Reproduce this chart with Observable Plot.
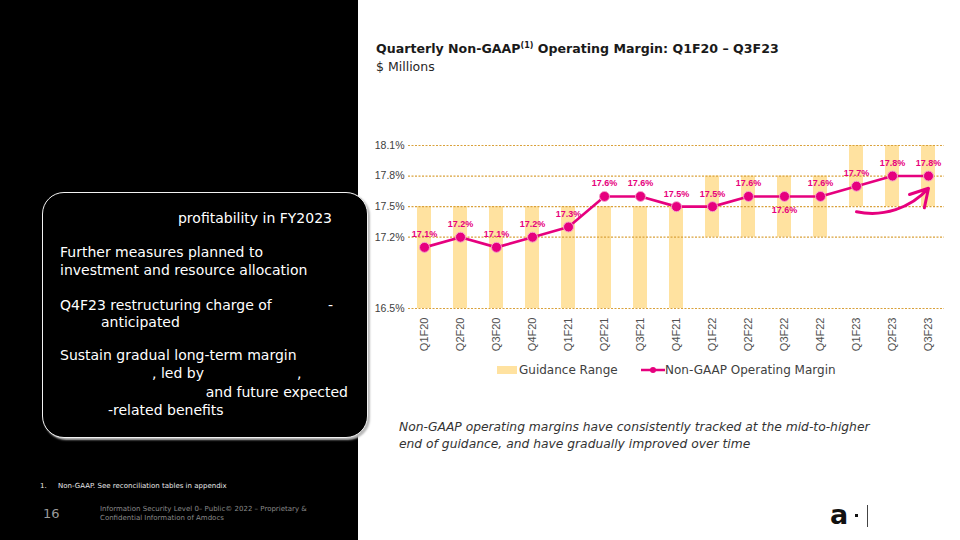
<!DOCTYPE html>
<html><head><meta charset="utf-8">
<script src="https://cdn.jsdelivr.net/npm/d3@7"></script>
<script src="https://cdn.jsdelivr.net/npm/@observablehq/plot@0.6"></script>
<style>
html,body{margin:0;padding:0;}
body{width:960px;height:540px;position:relative;overflow:hidden;background:#fff;font-family:"DejaVu Sans",sans-serif;}
.abs{position:absolute;white-space:nowrap;}
#leftpanel{position:absolute;left:0;top:0;width:358px;height:540px;background:#000;}
#box{position:absolute;left:42px;top:192px;width:324px;height:244px;background:#000;border:1.5px solid #f2f2f2;border-radius:22px;box-shadow:2px 2px 2px #b8b8b8;}
.bt{position:absolute;white-space:nowrap;color:#fff;font-size:14px;line-height:18px;}
#chart{position:absolute;left:360px;top:120px;}
.leg{font-size:12px;color:#404040;line-height:16px;}
</style></head><body>
<div id="leftpanel"></div>
<div id="box"></div>
<div class="bt" style="right:628px;top:209px;">profitability in FY2023</div>
<div class="bt" style="left:60px;top:243px;">Further measures planned to</div>
<div class="bt" style="left:60px;top:261px;">investment and resource allocation</div>
<div class="bt" style="left:60px;top:296px;">Q4F23 restructuring charge of</div>
<div class="bt" style="left:328px;top:296px;">-</div>
<div class="bt" style="left:101px;top:313px;">anticipated</div>
<div class="bt" style="left:60px;top:346px;">Sustain gradual long-term margin</div>
<div class="bt" style="left:152px;top:364px;">, led by</div>
<div class="bt" style="left:297px;top:364px;">,</div>
<div class="bt" style="right:612px;top:383px;">and future expected</div>
<div class="bt" style="left:108px;top:401px;">-related benefits</div>

<div class="abs" style="left:40px;top:482px;font-size:7px;color:#e8e8e8;">1.</div>
<div class="abs" style="left:58px;top:482px;font-size:7px;color:#e8e8e8;">Non-GAAP. See reconciliation tables in appendix</div>
<div class="abs" style="left:43px;top:506px;font-size:13px;color:#9a9a9a;">16</div>
<div class="abs" style="left:100px;top:505px;font-size:7px;line-height:8.5px;color:#8a8a8a;">Information Security Level 0– Public© 2022 – Proprietary &amp;<br>Confidential Information of Amdocs</div>

<div class="abs" style="left:376px;top:41px;font-size:12.6px;font-weight:bold;color:#1a1a1a;">Quarterly Non-GAAP<sup style="font-size:8px;vertical-align:5px;line-height:0;">(1)</sup> Operating Margin: Q1F20 – Q3F23</div>
<div class="abs" style="left:376px;top:59px;font-size:12.5px;color:#262626;">$ Millions</div>

<div id="chart"></div>

<div class="abs" style="left:497px;top:366px;width:20px;height:8px;background:#FFE2A0;"></div>
<div class="abs leg" style="left:519px;top:362px;">Guidance Range</div>
<svg class="abs" style="left:641px;top:364px;" width="24" height="12"><line x1="0" y1="6" x2="24" y2="6" stroke="#E6007E" stroke-width="2.5"/><circle cx="12" cy="6" r="3" fill="#E6007E"/></svg>
<div class="abs leg" style="left:665px;top:362px;">Non-GAAP Operating Margin</div>

<div class="abs" style="left:399px;top:419px;font-size:12.3px;font-style:italic;color:#333;line-height:17px;">Non-GAAP operating margins have consistently tracked at the mid-to-higher<br>end of guidance, and have gradually improved over time</div>

<div class="abs" style="left:830px;top:500px;font-size:27px;font-weight:bold;color:#111;line-height:30px;font-family:'DejaVu Sans';">a</div>
<div class="abs" style="left:855px;top:514px;width:3px;height:3px;background:#111;"></div>
<div class="abs" style="left:867px;top:505px;width:1px;height:22px;background:#444;"></div>

<script>
const quarters = ["Q1F20","Q2F20","Q3F20","Q4F20","Q1F21","Q2F21","Q3F21","Q4F21","Q1F22","Q2F22","Q3F22","Q4F22","Q1F23","Q2F23","Q3F23"];
const marginPct = [17.1,17.2,17.1,17.2,17.3,17.6,17.6,17.5,17.5,17.6,17.6,17.6,17.7,17.8,17.8];
const guidanceLow = [16.5,16.5,16.5,16.5,16.5,16.5,16.5,16.5,17.2,17.2,17.2,17.2,17.5,17.5,17.5];
const guidanceHigh = [17.5,17.5,17.5,17.5,17.5,17.5,17.5,17.5,17.8,17.8,17.8,17.8,18.1,18.1,18.1];
const yTicks = [16.5,17.2,17.5,17.8,18.1];
const labelsBelow = ["Q3F22"];
const trendArrow = [{from:"Q1F23", to:"Q3F23", v1:17.45, v2:17.68}];

const rows = quarters.map((q,i) => ({q, m: marginPct[i], lo: guidanceLow[i], hi: guidanceHigh[i]}));
const pink = "#E6007E";
const fmt = d => d.toFixed(1) + "%";

const chart = Plot.plot({
  width: 600, height: 250,
  marginLeft: 48, marginRight: 16, marginTop: 25, marginBottom: 62,
  style: {background: "transparent", fontFamily: "DejaVu Sans", color: "#404040"},
  x: {domain: quarters, paddingInner: 0.6, paddingOuter: 0.1, label: null},
  y: {domain: [16.5, 18.1], label: null},
  marks: [
    Plot.barY(rows, {x: "q", y1: "lo", y2: "hi", fill: "#FFE2A0"}),
    Plot.ruleY(yTicks, {stroke: "#D9A13B", strokeDasharray: "2,1.5", strokeWidth: 1.2}),
    Plot.axisY({ticks: yTicks, tickFormat: fmt, tickSize: 0, tickPadding: 4, fontSize: 10.5, fontFamily: "Liberation Sans", fill: "#404040", label: null}),
    Plot.axisX({tickSize: 0, tickRotate: -90, tickPadding: 9, fontSize: 11, fontFamily: "Liberation Sans", fill: "#505050", label: null}),
    Plot.line(rows, {x: "q", y: "m", stroke: pink, strokeWidth: 2.6}),
    Plot.dot(rows, {x: "q", y: "m", r: 5, fill: pink, stroke: "#F6A3CB", strokeWidth: 1}),
    Plot.text(rows.filter(d => !labelsBelow.includes(d.q)), {x: "q", y: "m", text: d => fmt(d.m), dy: -13, fill: pink, fontWeight: "bold", fontSize: 9, fontFamily: "Liberation Sans"}),
    Plot.text(rows.filter(d => labelsBelow.includes(d.q)), {x: "q", y: "m", text: d => fmt(d.m), dy: 14, fill: pink, fontWeight: "bold", fontSize: 9, fontFamily: "Liberation Sans"}),
    Plot.arrow(trendArrow, {x1: "from", x2: "to", y1: "v1", y2: "v2", bend: -30, stroke: pink, strokeWidth: 3, headLength: 10})
  ]
});
document.getElementById("chart").appendChild(chart);
</script>
</body></html>
